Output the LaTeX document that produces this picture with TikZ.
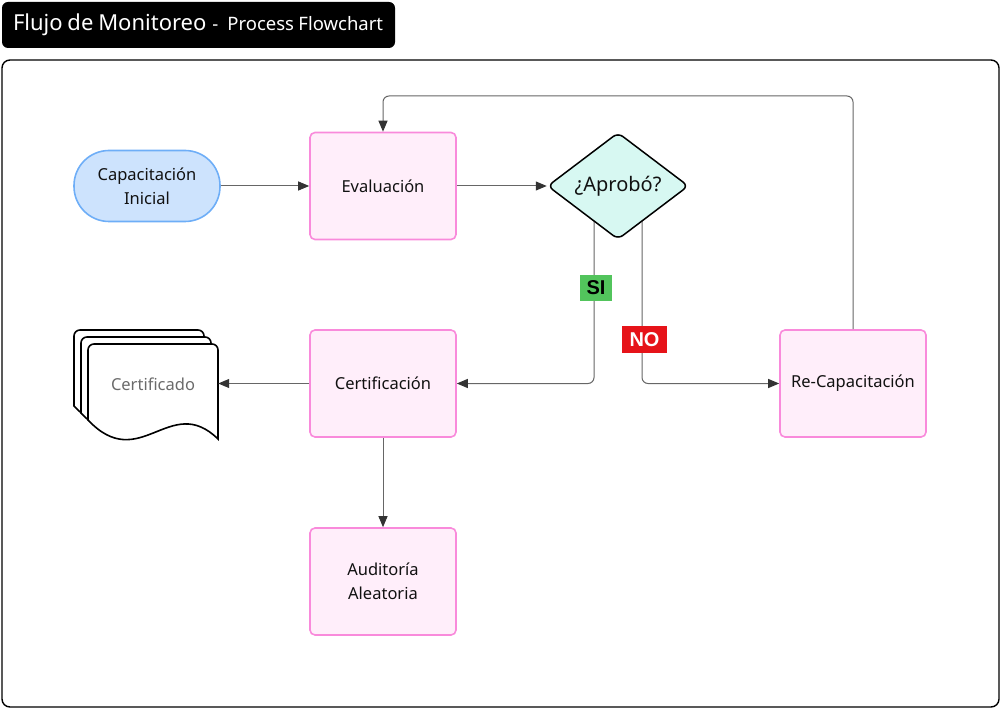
\documentclass[tikz,border=0pt]{standalone}
\usepackage{fontspec}
\setmainfont{Noto Sans}
\newfontfamily\lblfont{Liberation Sans}
\usetikzlibrary{shapes.geometric,arrows.meta,backgrounds,calc}
\definecolor{pinkf}{HTML}{FFEEFA}
\definecolor{pinkb}{HTML}{F98ADB}
\definecolor{bluef}{HTML}{CDE3FD}
\definecolor{blueb}{HTML}{6EAEF7}
\definecolor{decf}{HTML}{D7F8F2}
\definecolor{sigreen}{HTML}{52C45C}
\definecolor{nored}{HTML}{E61319}
\definecolor{linec}{HTML}{666666}
\definecolor{arrowc}{HTML}{333333}
\definecolor{txt}{HTML}{111111}
\definecolor{doctxt}{HTML}{6B6B6B}
\tikzset{
  proc/.style={draw=pinkb, fill=pinkf, line width=1.6pt, rounded corners=5pt,
    minimum width=146pt, minimum height=107pt, align=center, text=txt,
    font=\fontsize{16.5}{24}\selectfont},
  term/.style={draw=blueb, fill=bluef, line width=1.6pt, rounded corners=35pt,
    minimum width=146pt, minimum height=71pt, align=center, text=txt,
    font=\fontsize{16.5}{24}\selectfont},
  dec/.style={draw=black, fill=decf, line width=1.5pt, shape=diamond, rounded corners=6pt,
    minimum width=141pt, minimum height=104pt, inner sep=0pt, text=txt,
    font=\fontsize{20}{24}\selectfont},
  conn/.style={draw=linec, line width=1pt, rounded corners=6pt,
    -{Triangle[length=11pt,width=9pt,color=arrowc]}},
  docpage/.style={draw=black, fill=white, line width=1.6pt},
  lbl/.style={inner sep=0pt, font=\lblfont\bfseries\fontsize{20}{24}\selectfont}
}
\begin{document}
\begin{tikzpicture}[x=1pt,y=-1pt]
\useasboundingbox (0,0) rectangle (1000,708);
% title
\node[fill=black, rounded corners=6pt, minimum width=393pt, minimum height=46pt, text=white,
  inner xsep=11pt, inner ysep=0pt, text width=371pt, align=left] (title) at (198.5,25)
  {{\fontsize{22}{24}\selectfont Flujo\hspace{1.5pt} de\hspace{1.5pt} Monitoreo}\hspace{6pt}{\fontsize{18.5}{20}\selectfont -\hspace{9pt}Process\hspace{1pt} Flowchart}};
% frame
\node[draw=black, line width=1.4pt, rounded corners=8pt, minimum width=997pt, minimum height=647pt, inner sep=0pt] (frame) at (500.5,383.5) {};
% nodes
\node[term] (cap) at (147,186) {Capacitación\\Inicial};
\node[proc] (eval) at (383,186) {Evaluación};
\node[dec] (apr) at (618,186) {¿Aprobó?};
\node[proc] (certif) at (383,383.5) {Certificación};
\node[proc] (recap) at (853,383.5) {Re-Capacitación};
\node[proc] (aud) at (383,581.5) {Auditoría\\Aleatoria};
% document stack
\foreach \d in {14,7,0}{
  \begin{scope}[shift={(-\d,-\d)}]
    \path[docpage] (218,439) .. controls (170,392) and (140,475) .. (88,420)
       [rounded corners=6pt] -- (88,344) -- (218,344) [sharp corners] -- cycle;
  \end{scope}
}
\node[minimum width=130pt, minimum height=96pt, inner sep=0pt, text=doctxt, font=\fontsize{16.5}{20}\selectfont] (doc) at (153,384) {Certificado};
% connectors
\draw[conn] (cap.east) -- (eval.west);
\draw[conn] (eval.east) -- (apr.west);
\begin{scope}[on background layer]
  \draw[conn] ($(apr.center)+(-24,0)$) |- (certif.east);
  \draw[conn] ($(apr.center)+(24,0)$) |- (recap.west);
\end{scope}
\draw[conn] (recap.north) -- (recap.north |- 0,96) -| (eval.north);
\draw[conn] (certif.west) -- (certif.west -| doc.east);
\draw[conn] (certif.south) -- (aud.north);
% labels
\node[lbl, fill=sigreen, text=black, minimum width=32pt, minimum height=26pt] (si) at (596,288) {SI};
\node[lbl, fill=nored, text=white, minimum width=45pt, minimum height=27pt] (no) at (644.5,339.5) {NO};
\end{tikzpicture}
\end{document}
